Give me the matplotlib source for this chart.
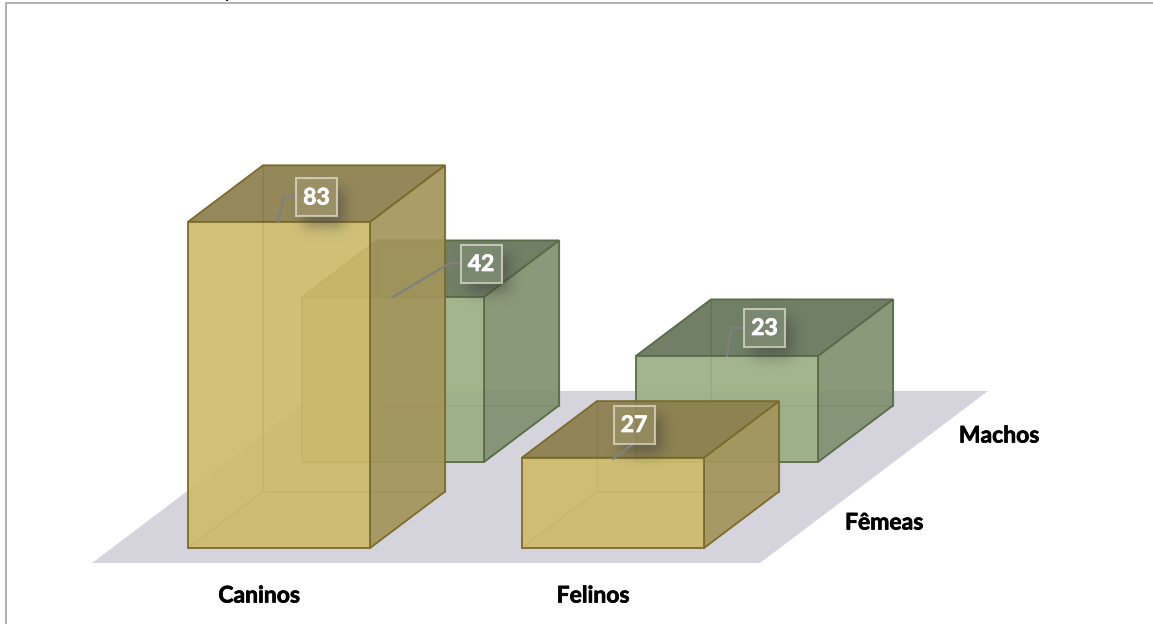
import matplotlib
matplotlib.use("Agg")
import numpy as np
import matplotlib.pyplot as plt
import matplotlib.patheffects as pe
from matplotlib.patches import Polygon, Rectangle

# Bar heights as drawn, and the labels printed on them (Felinos labels are swapped in the original)
categories = ["Caninos", "Felinos"]
series = ["Fêmeas", "Machos"]
femeas_heights = [83, 23]
machos_heights = [42, 27]
femeas_labels = [83, 27]
machos_labels = [42, 23]

W, H = 1153, 624
BASE_Y = 548
LEFT_X = 188
BAR_W = 182
CAT_STEP = 334
SER_DX, SER_DY = 114, 86
DEPTH_DX, DEPTH_DY = 75, 56.5
PX_PER_UNIT = 3.93

YELLOW = {"front": "#cdbb6c", "side": "#a2945a", "top": "#8a7d4c", "edge": "#7a6a2a"}
GREEN = {"front": "#9baf84", "side": "#7f906e", "top": "#637358", "edge": "#586a46"}

plt.rcParams["font.family"] = ["Lato", "DejaVu Sans"]
fig = plt.figure(figsize=(W / 100, H / 100), dpi=100)
ax = fig.add_axes([0, 0, 1, 1])
ax.set_xlim(0, W)
ax.set_ylim(H, 0)
ax.axis("off")


def pt(cat, ser, x, val, depth):
    # oblique projection: x 0-1 across the bar, depth 0-1 into the chart
    px = LEFT_X + cat * CAT_STEP + ser * SER_DX + x * BAR_W + depth * DEPTH_DX
    py = BASE_Y - ser * SER_DY - val * PX_PER_UNIT - depth * DEPTH_DY
    return (px, py)


def draw_bar(cat, ser, height, col):
    faces = [
        ("front", [(0, 0, 1), (1, 0, 1), (1, height, 1), (0, height, 1)], 0.22),   # back
        ("front", [(0, 0, 0), (0, 0, 1), (0, height, 1), (0, height, 0)], 0.15),   # left
        ("front", [(0, 0, 0), (1, 0, 0), (1, 0, 1), (0, 0, 1)], 0.2),              # bottom
        ("side", [(1, 0, 0), (1, 0, 1), (1, height, 1), (1, height, 0)], 0.9),
        ("top", [(0, height, 0), (1, height, 0), (1, height, 1), (0, height, 1)], 0.9),
        ("front", [(0, 0, 0), (1, 0, 0), (1, height, 0), (0, height, 0)], 0.9),
    ]
    for name, corners, alpha in faces:
        xy = [pt(cat, ser, x, v, d) for x, v, d in corners]
        ax.add_patch(Polygon(xy, closed=True, facecolor=col[name], alpha=alpha, edgecolor="none"))
        inner = alpha < 0.5
        ax.add_patch(Polygon(xy, closed=True, fill=False, edgecolor=col["edge"],
                             lw=0.9 if inner else 1.3, alpha=0.6 if inner else 0.95))


def blur(a, sigma):
    r = int(sigma * 3)
    k = np.exp(-0.5 * (np.arange(-r, r + 1) / sigma) ** 2)
    k /= k.sum()
    a = np.apply_along_axis(lambda m: np.convolve(m, k, mode="same"), 0, a)
    return np.apply_along_axis(lambda m: np.convolve(m, k, mode="same"), 1, a)


def bold_text(x, y, s, color, zorder=5):
    ax.text(x, y, s, color=color, fontsize=16.5, fontweight="bold", ha="center", va="center", zorder=zorder,
            path_effects=[pe.withStroke(linewidth=0.5, foreground=color)])


def draw_label(text, cx, cy, leader):
    bw, bh = 41, 38
    pad = 32
    # soft shadow, blurred and kept out of the box itself
    a = np.zeros((bh + 2 * pad, bw + 2 * pad))
    a[pad + 10:pad + 10 + bh, pad + 7:pad + 7 + bw] = 1
    a = blur(a, 7) * 0.48
    a[pad:pad + bh, pad:pad + bw] = 0
    img = np.zeros(a.shape + (4,))
    img[..., :3] = 0.22
    img[..., 3] = a
    ax.imshow(img, extent=(cx - bw / 2 - pad, cx + bw / 2 + pad, cy + bh / 2 + pad, cy - bh / 2 - pad),
              aspect="auto", interpolation="bilinear", zorder=2)
    ax.plot(*zip(*leader), color="#80807c", lw=1.6, solid_capstyle="round", zorder=3)
    ax.add_patch(Rectangle((cx - bw / 2, cy - bh / 2), bw, bh, facecolor="white", alpha=0.07,
                           edgecolor="none", zorder=3))
    ax.add_patch(Rectangle((cx - bw / 2, cy - bh / 2), bw, bh, fill=False,
                           edgecolor="#e6e3d2", alpha=0.7, lw=1.5, zorder=3))
    bold_text(cx, cy + 1, text, "white")


# outer frame, open on the right and at the bottom
ax.plot([6, 6, 1153], [H, 3, 3], color="#a9a9a9", lw=1.3, solid_joinstyle="miter")
ax.text(224, -2, "y", fontsize=12, fontweight="bold", color="black", ha="left", va="baseline")

# floor
ax.add_patch(Polygon([(92, 563), (760, 563), (988, 391), (320, 391)], closed=True,
                     facecolor="#d5d3db", edgecolor="none"))

for c, h in enumerate(machos_heights):
    draw_bar(c, 1, h, GREEN)
for c, h in enumerate(femeas_heights):
    draw_bar(c, 0, h, YELLOW)

draw_label(str(machos_labels[0]), 481, 263.5, [(393, 297), (450, 263), (460, 263)])
draw_label(str(machos_labels[1]), 764.5, 327.5, [(727, 356), (731, 328), (744, 328)])
draw_label(str(femeas_labels[0]), 316.5, 197, [(278, 222), (284, 197), (296, 197)])
draw_label(str(femeas_labels[1]), 634, 424.5, [(613, 459), (634, 443)])

ax.set_xlim(0, W)
ax.set_ylim(H, 0)

bold_text(259, 596, categories[0], "black")
bold_text(593, 596, categories[1], "black")
bold_text(884, 523, series[0], "black")
bold_text(999, 436, series[1], "black")

fig.savefig("out.png", dpi=100)
